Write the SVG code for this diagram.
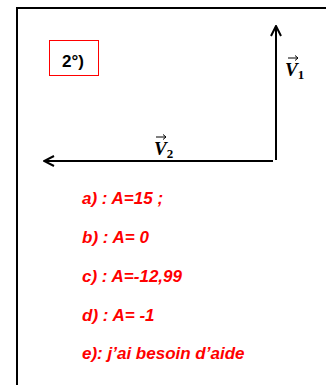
<svg xmlns="http://www.w3.org/2000/svg" width="326" height="385" viewBox="0 0 326 385">
<style>
.ans{font-family:"Liberation Sans",Arial,sans-serif;font-size:17px;font-weight:bold;font-style:italic;fill:#ff0000}
.vec{font-family:"Liberation Serif","Times New Roman",serif;font-weight:bold;font-style:italic;fill:#000}
.line{stroke:#000;stroke-width:2;fill:none}
</style>
<defs>
<marker id="ah" viewBox="0 0 12 12" refX="11" refY="6" markerWidth="12" markerHeight="12" markerUnits="userSpaceOnUse" orient="auto">
<path d="M1,1 L11,6 L1,11" fill="none" stroke="#000" stroke-width="2"/>
</marker>
</defs>
<rect id="frame" x="17" y="8" width="320" height="390" fill="#fff" stroke="#000" stroke-width="2"/>
<g id="label-box">
<rect x="49.5" y="40.5" width="49" height="35" fill="#fff" stroke="#ff0000" stroke-width="1"/>
<text x="62" y="67" font-family="'Liberation Sans',Arial,sans-serif" font-size="17" font-weight="bold" fill="#000">2°)</text>
</g>
<g id="connectors">
<line class="line" x1="276" y1="160" x2="276" y2="26" marker-end="url(#ah)"/>
<line class="line" x1="273" y1="161" x2="44" y2="161" marker-end="url(#ah)"/>
</g>
<g id="v1">
<text class="vec" x="285" y="76" font-size="19">V<tspan font-size="13" dy="3" font-style="normal">1</tspan></text>
<path d="M288,58 L298,58 M295,55.5 L298,58 L295,60.5" stroke="#000" stroke-width="1" fill="none"/>
</g>
<g id="v2">
<text class="vec" x="154" y="155" font-size="19">V<tspan font-size="13" dy="3" font-style="normal">2</tspan></text>
<path d="M156,137 L166,137 M163,134.5 L166,137 L163,139.5" stroke="#000" stroke-width="1" fill="none"/>
</g>
<g id="answers">
<text class="ans" x="82" y="204">a) : A=15 ;</text>
<text class="ans" x="82" y="243">b) : A= 0</text>
<text class="ans" x="82" y="282">c) : A=-12,99</text>
<text class="ans" x="82" y="321">d) : A= -1</text>
<text class="ans" x="82" y="359">e): j’ai besoin d’aide</text>
</g>
</svg>
